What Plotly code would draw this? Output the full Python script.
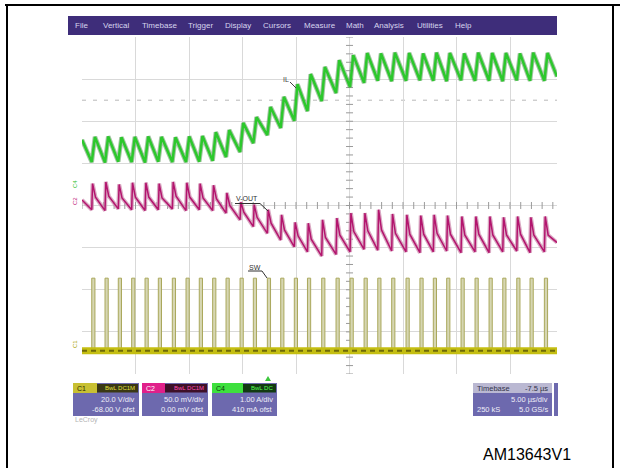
import plotly.graph_objects as go
import numpy as np

# ---------------- data ----------------
# switching instants (us), timebase 5 us/div, trigger at t = 0
sw_t = [-16.59, -15.35, -14.11, -12.86, -11.61, -10.37, -9.06, -7.78, -6.54, -5.29,
        -4.04, -2.73, -1.49, -0.18, 1.07, 2.34, 3.57, 4.90, 6.24, 7.55,
        8.86, 10.14, 11.44, 12.78, 14.08, 15.33, 16.58, 17.92, 19.23, 20.54,
        21.82, 23.13, 24.37, 25.71]
sw_high_v = 33.5      # C1 pulse top (V)
sw_low_v = -1.0       # C1 baseline (V)
sw_on_us = 0.30       # on-time of each pulse (us)

# C4 inductor current IL (A): valley at each switching instant, peak at end of on-time
il_valley = [0.62, 0.61, 0.63, 0.62, 0.61, 0.63, 0.62, 0.62, 0.63, 0.65,
             0.74, 0.86, 1.07, 1.26, 1.43, 1.60, 1.83, 2.07, 2.26, 2.40,
             2.50, 2.55, 2.54, 2.55, 2.56, 2.55, 2.54, 2.56, 2.55, 2.55,
             2.54, 2.56, 2.55, 2.55]
il_peak = [1.22, 1.23, 1.21, 1.22, 1.23, 1.22, 1.21, 1.23, 1.24, 1.33,
           1.38, 1.55, 1.69, 1.93, 2.17, 2.47, 2.71, 2.88, 3.04, 3.16,
           3.21, 3.20, 3.22, 3.21, 3.20, 3.22, 3.21, 3.20, 3.22, 3.21,
           3.21, 3.20, 3.22, 3.21]
il_start, il_end = 1.15, 2.65

# C2 output voltage ripple V-OUT (mV)
vout_valley = [-5, -6, -4, -5, -6, -5, -4, -6, -5, -6,
               -9, -17, -25, -33, -41, -49, -55, -60, -58, -55,
               -52, -53, -54, -55, -56, -55, -54, -56, -55, -56,
               -55, -54, -56, -55]
vout_peak = [26, 28, 25, 27, 27, 26, 28, 27, 26, 24,
             15, 4, 1, -5, -11, -20, -21, -17, -15, -9,
             -9, -5, -10, -11, -12, -11, -12, -13, -13, -13,
             -14, -13, -14, -13]
vout_knee = [10, 11, 9, 10, 10, 9, 11, 10, 9, 8,
             0, -8, -14, -21, -29, -36, -40, -38, -35, -31,
             -30, -29, -33, -34, -34, -33, -34, -35, -34, -35,
             -35, -34, -35, -35]
vout_start, vout_end = 6.5, -44.0

t_start, t_end = -17.5, 26.89

menu_items = ["File", "Vertical", "Timebase", "Trigger", "Display", "Cursors",
              "Measure", "Math", "Analysis", "Utilities", "Help"]
menu_x = [81, 116, 159, 200, 238, 277, 320, 355, 389, 430, 463]

FONT = "Liberation Sans"

# ---------------- build waveforms from the lists ----------------
sx, sy = [t_start], [sw_low_v]
for t in sw_t:
    sx += [t, t, t + sw_on_us, t + sw_on_us]
    sy += [sw_low_v, sw_high_v, sw_high_v, sw_low_v]
sx.append(t_end); sy.append(sw_low_v)

ix, iy = [t_start], [il_start]
for t, v, p in zip(sw_t, il_valley, il_peak):
    ix += [t, t + sw_on_us]
    iy += [v, p]
ix.append(t_end); iy.append(il_end)

vx, vy = [t_start], [vout_start]
for t, v, p, k in zip(sw_t, vout_valley, vout_peak, vout_knee):
    vx += [t, t + 0.08, t + 0.35]
    vy += [v, p, k]
vx.append(t_end); vy.append(vout_end)

fig = go.Figure()

# center-line tick marks (graticule decoration)
hx = np.arange(-17.5, 26.9, 1.0)
fig.add_trace(go.Scatter(x=hx, y=[0] * len(hx), mode="markers", yaxis="y",
                         marker=dict(symbol="line-ns", size=5, line=dict(color="#9a9a9a", width=1)),
                         hoverinfo="skip", showlegend=False))
vyt = np.arange(-4, 4.01, 0.2)
fig.add_trace(go.Scatter(x=[7.5] * len(vyt), y=vyt, mode="markers", yaxis="y",
                         marker=dict(symbol="line-ew", size=5, line=dict(color="#9a9a9a", width=1)),
                         hoverinfo="skip", showlegend=False))

# C1 switching node
fig.add_trace(go.Scatter(x=sx, y=sy, mode="lines", yaxis="y2", fill="tozeroy",
                         fillcolor="#d6d6b2", line=dict(color="#aaa85c", width=1),
                         hoverinfo="skip", showlegend=False))
fig.add_trace(go.Scatter(x=[t_start, t_end], y=[sw_low_v, sw_low_v], mode="lines", yaxis="y2",
                         line=dict(color="#c4be12", width=7), hoverinfo="skip", showlegend=False))
fig.add_trace(go.Scatter(x=[t_start, t_end], y=[sw_low_v, sw_low_v], mode="lines", yaxis="y2",
                         line=dict(color="#6e6a08", width=2, dash="5px,4px"),
                         hoverinfo="skip", showlegend=False))

# C2 V-OUT
fig.add_trace(go.Scatter(x=vx, y=vy, mode="lines", yaxis="y3",
                         line=dict(color="rgba(205,140,175,0.75)", width=4),
                         hoverinfo="skip", showlegend=False))
fig.add_trace(go.Scatter(x=vx, y=vy, mode="lines", yaxis="y3",
                         line=dict(color="#b3156e", width=1.5),
                         hoverinfo="skip", showlegend=False))

# C4 IL
fig.add_trace(go.Scatter(x=ix, y=iy, mode="lines", yaxis="y4",
                         line=dict(color="rgba(90,150,90,0.55)", width=4.5),
                         hoverinfo="skip", showlegend=False))
fig.add_trace(go.Scatter(x=ix, y=iy, mode="lines", yaxis="y4",
                         line=dict(color="#2cc82c", width=2.5),
                         hoverinfo="skip", showlegend=False))

# ---------------- page decoration ----------------
L, T, W, H = 82, 37, 475, 337


def px(x):
    return (x - L) / W


def py(y):
    return (T + H - y) / H


shapes, ann = [], []


def rect(x0, y0, x1, y1, color):
    shapes.append(dict(type="rect", xref="paper", yref="paper", x0=px(x0), x1=px(x1),
                       y0=py(y1), y1=py(y0), fillcolor=color, line=dict(width=0), layer="below"))


def seg(x0, y0, x1, y1, color, width=1, layer="above"):
    shapes.append(dict(type="line", xref="paper", yref="paper", x0=px(x0), x1=px(x1),
                       y0=py(y0), y1=py(y1), line=dict(color=color, width=width), layer=layer))


def text(x, y, s, size, color, anchor="center", angle=0):
    ann.append(dict(xref="paper", yref="paper", x=px(x), y=py(y), text=s, showarrow=False,
                    xanchor=anchor, yanchor="middle", textangle=angle,
                    font=dict(family=FONT, size=size, color=color)))


# outer document frame
seg(5, 5, 620, 5, "#000000", 2)
seg(7, 5, 7, 468, "#000000", 2)
seg(613, 5, 613, 468, "#000000", 2)

# menu bar
rect(68, 16, 557, 35, "#3e2d7a")
for s, x in zip(menu_items, menu_x):
    text(x, 25.5, s, 8, "#d6d4ee")

# center lines and dashed marker line
shapes.append(dict(type="line", xref="x", yref="y", x0=t_start, x1=t_end, y0=0, y1=0,
                   line=dict(color="#9a9a9a", width=1), layer="below"))
shapes.append(dict(type="line", xref="x", yref="y", x0=7.5, x1=7.5, y0=-4, y1=4,
                   line=dict(color="#9a9a9a", width=1), layer="below"))
shapes.append(dict(type="line", xref="x", yref="y", x0=t_start, x1=t_end, y0=2.5, y1=2.5,
                   line=dict(color="#b8b8b8", width=1, dash="4px,7px"), layer="below"))

# channel ground labels
text(75, 184, "C4", 6, "#30c030", angle=-90)
text(75, 201, "C2", 6, "#c0207a", angle=-90)
text(75, 344, "C1", 6, "#a8a400", angle=-90)

# trace labels with leaders
text(286, 79, "IL", 7, "#404040")
seg(290, 82, 296, 88, "#404040")
text(247, 199, "V-OUT", 7, "#303030")
seg(235, 203.5, 260, 203.5, "#303030")
seg(260, 203.5, 268, 211, "#303030")
text(255, 267, "SW", 7, "#303030")
seg(248, 271, 262, 271, "#303030")
seg(262, 271, 267, 278, "#303030")

# trigger marker
shapes.append(dict(type="path", xref="paper", yref="paper",
                   path=f"M {px(265)},{py(381)} L {px(271)},{py(381)} L {px(268)},{py(376)} Z",
                   fillcolor="#3ec83e", line=dict(width=0)))

# channel descriptor boxes
BODY = "#6d69ae"
boxes = [
    (73, 139, 97, "C1", "#c8c032", "#3a3814", "BwL DC1M", "#e4e040", "#2a2800",
     "20.0 V/div", "-68.00 V ofst"),
    (142, 208, 165, "C2", "#e0208a", "#3e1028", "BwL DC1M", "#ff4fb0", "#ffffff",
     "50.0 mV/div", "0.00 mV ofst"),
    (212, 277, 243, "C4", "#3ee03e", "#123a12", "BwL DC", "#56ff56", "#0a3a0a",
     "1.00 A/div", "410 mA ofst"),
]
for x0, x1, xs, lab, hc, dc, tag, tagc, labc, l1, l2 in boxes:
    rect(x0, 383, x1, 416, BODY)
    rect(x0, 383, xs, 393, hc)
    rect(xs, 384, x1 - 1, 392.5, dc)
    text(x0 + 2, 388, lab, 7, labc, anchor="left")
    text(x1 - 2, 388, tag, 6, tagc, anchor="right")
    text(x1 - 2, 399.5, l1, 7.5, "#eeeef8", anchor="right")
    text(x1 - 2, 410, l2, 7.5, "#eeeef8", anchor="right")

rect(473, 383, 552, 416, BODY)
rect(473, 383, 552, 393, "#bab8d2")
text(475, 388, "Timebase", 7.5, "#33334a", anchor="left")
text(550, 388, "-7.5 µs", 7.5, "#33334a", anchor="right")
text(550, 399.5, "5.00 µs/div", 7.5, "#eeeef8", anchor="right")
text(475, 410, "250 kS", 7.5, "#eeeef8", anchor="left")
text(550, 410, "5.0 GS/s", 7.5, "#eeeef8", anchor="right")
rect(554, 383, 558, 416, BODY)

text(73, 420, "LeCroy", 7, "#b4b4b4", anchor="left")

# figure code
text(527, 454, "AM13643V1", 16, "#000000")

fig.update_layout(
    width=620, height=468,
    margin=dict(l=L, r=620 - L - W, t=T, b=468 - T - H, pad=0),
    paper_bgcolor="#ffffff", plot_bgcolor="#ffffff",
    showlegend=False,
    xaxis=dict(range=[t_start, t_end], tick0=-17.5, dtick=5, showgrid=True,
               gridcolor="#d9d9d9", gridwidth=1, zeroline=False, showticklabels=False,
               ticks="", showline=False, fixedrange=True),
    yaxis=dict(range=[-4, 4], dtick=1, showgrid=True, gridcolor="#d9d9d9", gridwidth=1,
               zeroline=False, showticklabels=False, ticks="", showline=False, fixedrange=True),
    yaxis2=dict(range=[-12, 148], overlaying="y", visible=False, fixedrange=True),
    yaxis3=dict(range=[-200, 200], overlaying="y", visible=False, fixedrange=True),
    yaxis4=dict(range=[-4.41, 3.59], overlaying="y", visible=False, fixedrange=True),
    shapes=shapes,
    annotations=ann,
)

fig.write_html("out.html", config={"displayModeBar": False, "staticPlot": True},
               post_script="document.body.style.margin='0';document.body.style.overflow='hidden';")
